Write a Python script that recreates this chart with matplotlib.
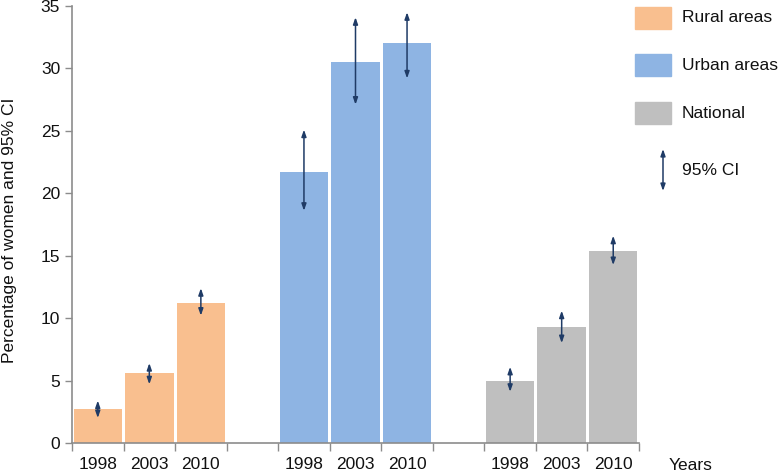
import numpy as np
import matplotlib.pyplot as plt
from matplotlib.patches import Rectangle

plt.rcParams['font.family'] = ['Liberation Sans', 'DejaVu Sans']

# ---------------- data ----------------
years = ['1998', '2003', '2010']
groups = ['Rural areas', 'Urban areas', 'National']
colors = ['#F9BF8F', '#8EB4E3', '#BFBFBF']

rural = [2.7, 5.6, 11.25]
urban = [21.7, 30.5, 32.0]
national = [5.0, 9.3, 15.4]

rural_lo = [2.0, 4.7, 10.2]
rural_hi = [3.4, 6.4, 12.4]
urban_lo = [18.6, 27.1, 29.2]
urban_hi = [25.1, 34.1, 34.5]
national_lo = [4.1, 8.0, 14.25]
national_hi = [6.1, 10.6, 16.6]

values = [rural, urban, national]
lows = [rural_lo, urban_lo, national_lo]
highs = [rural_hi, urban_hi, national_hi]

ARROW = '#1F3B66'
SPINE = '#8C8C8C'
TXT = '#111111'
FS = 12.5
ASTYLE = '<|-|>,head_length=0.4,head_width=0.14'

fig = plt.figure(figsize=(7.83, 4.73), dpi=100)
ax = fig.add_axes([72 / 783, 30 / 473, (639 - 72) / 783, (443 - 6) / 473])

# one empty slot between groups
xpos = []
for g in range(3):
    x = np.arange(3) + g * 4
    xpos.append(x)
    ax.bar(x, values[g], width=0.94, color=colors[g], zorder=2)
    for xi, lo, hi in zip(x, lows[g], highs[g]):
        ax.annotate('', xy=(xi, hi), xytext=(xi, lo),
                    arrowprops=dict(arrowstyle=ASTYLE, color=ARROW, lw=1.1,
                                    shrinkA=0, shrinkB=0),
                    zorder=3)

ax.set_xlim(-0.5, 10.5)
ax.set_ylim(0, 35)
ax.set_yticks(np.arange(0, 36, 5))
ax.set_xticks(np.arange(-0.5, 11, 1))
ax.set_xticklabels([])
ax.tick_params(axis='both', colors=SPINE, labelcolor=TXT, labelsize=FS,
               length=5, width=1)
ax.tick_params(axis='x', length=6)

for s in ['top', 'right']:
    ax.spines[s].set_visible(False)
for s in ['left', 'bottom']:
    ax.spines[s].set_color(SPINE)
    ax.spines[s].set_linewidth(1.2)

# year labels under the bars
for x in xpos:
    for xi, yr in zip(x, years):
        ax.text(xi, -1.75, yr, ha='center', va='center', fontsize=FS, color=TXT)
fig.text(691 / 783, 1 - 465 / 473, 'Years', ha='center', va='center',
         fontsize=FS, color=TXT)

fig.text(10 / 783, 1 - 230 / 473, 'Percentage of women and 95% CI',
         rotation=90, ha='center', va='center', fontsize=FS, color=TXT)

# manual legend at the right
legend_y = [18, 65, 113]
for g, ly in enumerate(legend_y):
    fig.add_artist(Rectangle((635 / 783, 1 - (ly + 11) / 473), 36 / 783, 22 / 473,
                             transform=fig.transFigure, color=colors[g]))
    fig.text(682 / 783, 1 - ly / 473, groups[g], ha='left', va='center',
             fontsize=FS, color=TXT)
fig.add_artist(plt.Annotation('', xy=(663 / 783, 1 - 149 / 473),
                              xytext=(663 / 783, 1 - 191 / 473),
                              xycoords='figure fraction', textcoords='figure fraction',
                              arrowprops=dict(arrowstyle=ASTYLE, color=ARROW, lw=1.1,
                                              shrinkA=0, shrinkB=0)))
fig.text(682 / 783, 1 - 170 / 473, '95% CI', ha='left', va='center',
         fontsize=FS, color=TXT)

fig.savefig('out.png', dpi=100)
